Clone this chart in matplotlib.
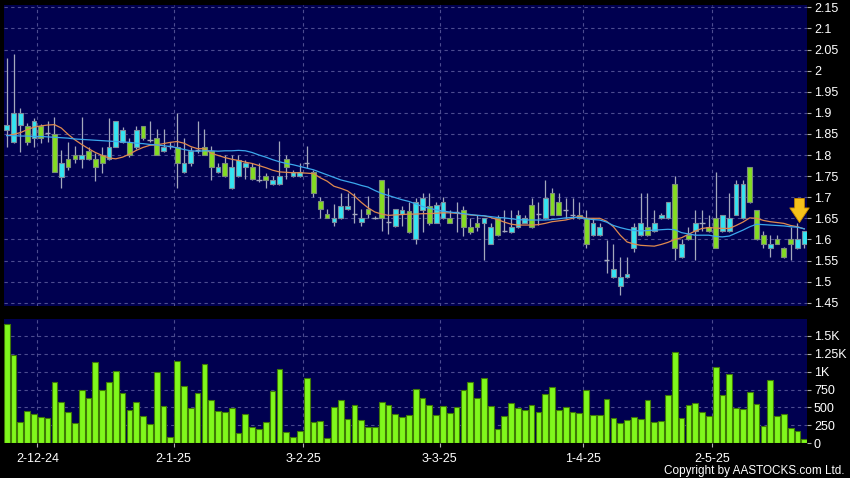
import numpy as np
import matplotlib
matplotlib.use("Agg")
from matplotlib import pyplot as plt

plt.rcParams['font.family'] = ['Liberation Sans', 'DejaVu Sans']

# daily candles, 26-11-24 .. 22-5-25
opens = [1.859, 1.830, 1.870, 1.869, 1.840, 1.869, 1.853, 1.849, 1.749, 1.790,
         1.799, 1.790, 1.810, 1.790, 1.799, 1.790, 1.820, 1.830, 1.830, 1.820,
         1.869, 1.835, 1.840, 1.810, 1.821, 1.820, 1.760, 1.780, 1.812, 1.820,
         1.809, 1.759, 1.781, 1.722, 1.751, 1.772, 1.772, 1.741, 1.750, 1.732,
         1.732, 1.791, 1.751, 1.751, 1.781, 1.759, 1.690, 1.660, 1.641, 1.651,
         1.671, 1.660, 1.641, 1.671, 1.651, 1.740, 1.641, 1.631, 1.660, 1.668,
         1.600, 1.669, 1.679, 1.640, 1.650, 1.650, 1.665, 1.669, 1.630, 1.640,
         1.640, 1.590, 1.650, 1.620, 1.618, 1.630, 1.640, 1.681, 1.660, 1.650,
         1.709, 1.689, 1.669, 1.659, 1.659, 1.650, 1.610, 1.610, 1.551, 1.510,
         1.489, 1.510, 1.579, 1.610, 1.630, 1.620, 1.650, 1.650, 1.731, 1.559,
         1.610, 1.620, 1.640, 1.630, 1.650, 1.620, 1.620, 1.659, 1.650, 1.771,
         1.669, 1.610, 1.579, 1.600, 1.579, 1.600, 1.579, 1.590]
highs = [2.029, 2.040, 1.911, 1.877, 1.887, 1.874, 1.881, 1.891, 1.812, 1.832,
         1.821, 1.891, 1.820, 1.804, 1.820, 1.888, 1.880, 1.867, 1.840, 1.869,
         1.869, 1.881, 1.861, 1.861, 1.830, 1.899, 1.840, 1.820, 1.880, 1.861,
         1.821, 1.781, 1.800, 1.801, 1.801, 1.789, 1.781, 1.781, 1.757, 1.750,
         1.833, 1.801, 1.765, 1.781, 1.821, 1.765, 1.700, 1.671, 1.683, 1.710,
         1.710, 1.710, 1.671, 1.702, 1.655, 1.740, 1.722, 1.671, 1.680, 1.689,
         1.697, 1.709, 1.709, 1.689, 1.701, 1.669, 1.689, 1.679, 1.650, 1.659,
         1.650, 1.640, 1.659, 1.669, 1.669, 1.669, 1.659, 1.699, 1.689, 1.741,
         1.721, 1.709, 1.699, 1.699, 1.689, 1.669, 1.650, 1.640, 1.599, 1.590,
         1.559, 1.559, 1.640, 1.709, 1.709, 1.669, 1.662, 1.689, 1.750, 1.600,
         1.630, 1.669, 1.669, 1.659, 1.760, 1.659, 1.709, 1.740, 1.740, 1.771,
         1.669, 1.620, 1.610, 1.610, 1.581, 1.630, 1.640, 1.620]
lows = [1.820, 1.828, 1.808, 1.824, 1.820, 1.829, 1.832, 1.759, 1.721, 1.765,
        1.780, 1.769, 1.789, 1.739, 1.758, 1.788, 1.818, 1.828, 1.796, 1.815,
        1.836, 1.830, 1.799, 1.806, 1.815, 1.721, 1.758, 1.775, 1.805, 1.799,
        1.740, 1.757, 1.748, 1.720, 1.748, 1.742, 1.740, 1.736, 1.722, 1.730,
        1.730, 1.742, 1.749, 1.749, 1.769, 1.700, 1.651, 1.650, 1.631, 1.649,
        1.669, 1.640, 1.631, 1.651, 1.648, 1.619, 1.613, 1.629, 1.631, 1.615,
        1.590, 1.618, 1.635, 1.638, 1.648, 1.638, 1.618, 1.608, 1.612, 1.620,
        1.551, 1.588, 1.608, 1.618, 1.616, 1.628, 1.638, 1.628, 1.635, 1.648,
        1.657, 1.657, 1.650, 1.649, 1.648, 1.579, 1.608, 1.608, 1.520, 1.508,
        1.468, 1.508, 1.570, 1.608, 1.608, 1.618, 1.648, 1.648, 1.551, 1.557,
        1.598, 1.551, 1.620, 1.618, 1.579, 1.618, 1.618, 1.657, 1.648, 1.687,
        1.598, 1.579, 1.559, 1.588, 1.557, 1.551, 1.577, 1.579]
closes = [1.870, 1.899, 1.899, 1.830, 1.880, 1.840, 1.853, 1.759, 1.780, 1.771,
          1.790, 1.799, 1.790, 1.771, 1.780, 1.820, 1.880, 1.859, 1.799, 1.859,
          1.840, 1.835, 1.799, 1.820, 1.821, 1.780, 1.780, 1.810, 1.812, 1.799,
          1.772, 1.772, 1.750, 1.772, 1.789, 1.781, 1.742, 1.741, 1.741, 1.741,
          1.751, 1.772, 1.759, 1.759, 1.781, 1.710, 1.671, 1.651, 1.651, 1.680,
          1.680, 1.660, 1.651, 1.660, 1.651, 1.651, 1.641, 1.671, 1.670, 1.618,
          1.689, 1.699, 1.640, 1.681, 1.689, 1.640, 1.665, 1.630, 1.618, 1.630,
          1.650, 1.630, 1.610, 1.620, 1.630, 1.659, 1.650, 1.630, 1.660, 1.699,
          1.659, 1.659, 1.669, 1.659, 1.650, 1.590, 1.640, 1.630, 1.551, 1.529,
          1.510, 1.519, 1.630, 1.640, 1.610, 1.640, 1.659, 1.689, 1.579, 1.590,
          1.600, 1.640, 1.640, 1.620, 1.579, 1.659, 1.650, 1.731, 1.731, 1.689,
          1.600, 1.590, 1.590, 1.590, 1.559, 1.590, 1.600, 1.620]

# moving averages as drawn on the chart
ma10 = [1.846, 1.849, 1.853, 1.860, 1.866, 1.869, 1.871, 1.872, 1.864, 1.849,
        1.836, 1.825, 1.815, 1.806, 1.799, 1.793, 1.791, 1.795, 1.802, 1.811,
        1.818, 1.823, 1.824, 1.827, 1.830, 1.832, 1.828, 1.820, 1.815, 1.815,
        1.804, 1.799, 1.794, 1.790, 1.787, 1.783, 1.780, 1.775, 1.770, 1.764,
        1.760, 1.759, 1.758, 1.758, 1.757, 1.756, 1.746, 1.738, 1.726, 1.721,
        1.715, 1.703, 1.688, 1.675, 1.665, 1.660, 1.657, 1.658, 1.659, 1.660,
        1.660, 1.661, 1.661, 1.662, 1.663, 1.663, 1.662, 1.660, 1.658, 1.657,
        1.656, 1.652, 1.647, 1.641, 1.636, 1.634, 1.634, 1.634, 1.635, 1.638,
        1.642, 1.644, 1.646, 1.650, 1.655, 1.650, 1.650, 1.650, 1.643, 1.630,
        1.610, 1.594, 1.589, 1.586, 1.585, 1.584, 1.588, 1.593, 1.600, 1.604,
        1.612, 1.620, 1.626, 1.628, 1.627, 1.626, 1.626, 1.633, 1.641, 1.651,
        1.650, 1.645, 1.642, 1.640, 1.638, 1.633, 1.630, 1.625]
ma20 = [1.846, 1.846, 1.845, 1.845, 1.844, 1.844, 1.843, 1.842, 1.841, 1.840,
        1.838, 1.837, 1.836, 1.835, 1.834, 1.833, 1.832, 1.831, 1.830, 1.828,
        1.827, 1.825, 1.824, 1.822, 1.820, 1.817, 1.813, 1.810, 1.809, 1.810,
        1.810, 1.809, 1.810, 1.810, 1.811, 1.810, 1.806, 1.800, 1.795, 1.789,
        1.784, 1.780, 1.777, 1.773, 1.769, 1.765, 1.759, 1.753, 1.747, 1.741,
        1.737, 1.733, 1.728, 1.724, 1.716, 1.709, 1.704, 1.699, 1.694, 1.690,
        1.684, 1.678, 1.674, 1.670, 1.667, 1.665, 1.663, 1.661, 1.659, 1.657,
        1.656, 1.654, 1.652, 1.651, 1.649, 1.647, 1.646, 1.646, 1.646, 1.646,
        1.647, 1.649, 1.651, 1.652, 1.652, 1.649, 1.647, 1.646, 1.641, 1.633,
        1.628, 1.624, 1.621, 1.620, 1.621, 1.622, 1.623, 1.624, 1.623, 1.616,
        1.613, 1.610, 1.610, 1.610, 1.607, 1.606, 1.608, 1.615, 1.622, 1.630,
        1.636, 1.635, 1.634, 1.633, 1.632, 1.630, 1.629, 1.625]

volume = [1665, 1229, 291, 446, 413, 366, 352, 849, 582, 436,
          277, 746, 628, 1140, 750, 858, 1013, 708, 469, 577,
          375, 267, 994, 521, 89, 1154, 797, 497, 699, 1112,
          605, 446, 431, 492, 145, 403, 230, 206, 295, 736,
          1032, 159, 89, 178, 915, 300, 305, 80, 507, 605,
          342, 539, 324, 230, 225, 582, 535, 408, 371, 394,
          760, 628, 530, 389, 521, 427, 507, 750, 854, 638,
          905, 521, 202, 385, 563, 488, 469, 535, 431, 685,
          779, 460, 507, 441, 422, 741, 401, 389, 619, 352,
          286, 319, 366, 342, 605, 300, 314, 671, 1280, 352,
          535, 558, 441, 380, 1069, 680, 961, 497, 478, 722,
          549, 239, 886, 385, 408, 211, 178, 61]

date_idx = [5, 25, 44, 64, 85, 104]
date_labels = ['2-12-24', '2-1-25', '3-2-25', '3-3-25', '1-4-25', '2-5-25']
price_ticks = [1.45, 1.5, 1.55, 1.6, 1.65, 1.7, 1.75, 1.8, 1.85, 1.9, 1.95, 2.0, 2.05, 2.1, 2.15]
vol_ticks = [0, 250, 500, 750, 1000, 1250, 1500]
vol_labels = ['0', '250', '500', '750', '1K', '1.25K', '1.5K']

o = np.array(opens); h = np.array(highs); l = np.array(lows); c = np.array(closes)
idx = np.arange(len(o))
up = c > o
down = c < o
flat = c == o

navy = '#000050'
grid_col = '#4c4c90'
wick_col = '#a4a8bc'
cyan = '#33e4f2'
green = '#84dc22'

fig = plt.figure(figsize=(8.5, 4.78), dpi=100, facecolor='black')
ax1 = fig.add_axes([4/850, 1-306/478, 803/850, 301/478], facecolor=navy)
ax2 = fig.add_axes([4/850, 1-443.3/478, 803/850, 124.3/478], facecolor=navy)

grid_pos = [i - 0.5 for i in date_idx]

##### price panel
ax1.vlines(idx, l, h, color=wick_col, lw=0.9, zorder=2)
ax1.bar(idx[up], (c - o)[up], bottom=o[up], width=0.7, color=cyan,
        edgecolor='#7c8c9c', lw=0.8, zorder=3)
ax1.bar(idx[down], (o - c)[down], bottom=c[down], width=0.7, color=green,
        edgecolor='#7c8c7c', lw=0.8, zorder=3)
ax1.hlines(c[flat], idx[flat] - 0.4, idx[flat] + 0.4, color=wick_col, lw=1.0, zorder=3)
ax1.plot(idx, ma10, color='#e0894e', lw=0.9, zorder=4)
ax1.plot(idx, ma20, color='#3ba8ec', lw=0.9, zorder=4)

# arrow marker over the latest bars
ax1.annotate('', xy=(idx[-2] + 0.3, h[-2]), xytext=(idx[-2] + 0.3, h[-2] + 0.057),
             arrowprops=dict(arrowstyle='simple,head_width=1.0,head_length=0.75,tail_width=0.5',
                             mutation_scale=14, shrinkA=0, shrinkB=0,
                             fc='#f6c21a', ec='#c98a00', lw=0.6),
             zorder=5)

ax1.set_xlim(-0.4, 117.4)
ax1.set_ylim(1.4422, 2.1555)
ax1.set_yticks(price_ticks)
ax1.set_yticklabels(['%g' % t for t in price_ticks])
ax1.set_xticks(grid_pos)
ax1.yaxis.tick_right()
ax1.tick_params(axis='y', color='#b0b0b0', labelcolor='white', length=3, pad=2, labelsize=9)
ax1.tick_params(axis='x', bottom=False, labelbottom=False)
ax1.grid(True, color=grid_col, linestyle=(0, (3, 3)), lw=0.8)
ax1.set_axisbelow(True)

##### volume panel
ax2.bar(idx, volume, width=0.84, color='#80f81c', edgecolor='#3f7a06', lw=0.8, zorder=3)
ax2.set_xlim(-0.4, 117.4)
ax2.set_ylim(0, 1735)
ax2.set_yticks(vol_ticks)
ax2.set_yticklabels(vol_labels)
ax2.set_xticks(grid_pos)
ax2.set_xticklabels(date_labels)
ax2.yaxis.tick_right()
ax2.tick_params(axis='y', color='#b0b0b0', labelcolor='white', length=3, pad=2, labelsize=9)
ax2.tick_params(axis='x', color='#b0b0b0', labelcolor='white', length=3, pad=4, labelsize=9)
ax2.grid(True, color=grid_col, linestyle=(0, (3, 3)), lw=0.8)
ax2.set_axisbelow(True)

for ax in (ax1, ax2):
    for s in ax.spines.values():
        s.set_visible(False)

fig.text(845/850, 1-471/478, 'Copyright by AASTOCKS.com Ltd.', color='white',
         fontsize=8.5, ha='right', va='center')

fig.savefig('out.png', dpi=100, facecolor='black')
